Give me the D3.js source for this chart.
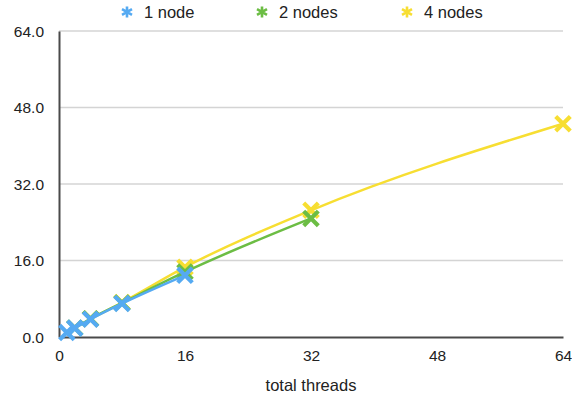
<!DOCTYPE html>
<html>
<head>
<meta charset="utf-8">
<script src="https://cdn.jsdelivr.net/npm/d3@7"></script>
<style>
  body { margin: 0; background: #fff; }
  text { font-family: "Liberation Sans", Arial, sans-serif; }
</style>
</head>
<body>
<div id="chart"></div>
<script>
// data
var seriesNames = ["1 node", "2 nodes", "4 nodes"];
var threads1 = [1, 2, 4, 8, 16];
var speedup1 = [0.95, 1.85, 3.7, 7.0, 12.9];
var threads2 = [2, 4, 8, 16, 32];
var speedup2 = [1.9, 3.8, 7.1, 13.6, 24.8];
var threads4 = [4, 8, 16, 32, 64];
var speedup4 = [3.8, 7.2, 14.6, 26.5, 44.6];
var xTicks = [0, 16, 32, 48, 64];
var yTicks = [0, 16, 32, 48, 64];
var colors = ["#55aaf2", "#6cbd44", "#f7de32"];

var width = 572, height = 402;
var margin = {top: 31, right: 9, bottom: 65, left: 59};
var w = width - margin.left - margin.right,
    h = height - margin.top - margin.bottom;

var svg = d3.select("#chart").append("svg")
    .attr("width", width)
    .attr("height", height);

var g = svg.append("g")
    .attr("transform", "translate(" + margin.left + "," + margin.top + ")");

var x = d3.scaleLinear().domain([0, 64]).range([0, w]);
var y = d3.scaleLinear().domain([0, 64]).range([h, 0]);

// horizontal grid
g.selectAll(".grid")
    .data(yTicks.filter(function(d){ return d > 0; }))
    .enter().append("line")
    .attr("x1", 0).attr("x2", w)
    .attr("y1", function(d){ return y(d); })
    .attr("y2", function(d){ return y(d); })
    .attr("stroke", "#d4d4d4")
    .attr("stroke-width", 1.3);

// y axis
var yAxis = d3.axisLeft(y).tickValues(yTicks).tickSize(0).tickPadding(15)
    .tickFormat(d3.format(".1f"));
var ya = g.append("g").call(yAxis);
ya.select(".domain").attr("stroke", "#4a4a4a").attr("stroke-width", 2);
ya.selectAll("text").attr("font-size", 15.5).attr("fill", "#222").attr("dy", "0.35em")
    .attr("font-family", "Liberation Sans, Arial, sans-serif");

// x axis
var xAxis = d3.axisBottom(x).tickValues(xTicks).tickSize(0).tickPadding(13);
var xa = g.append("g").attr("transform", "translate(0," + h + ")").call(xAxis);
xa.select(".domain").attr("stroke", "#4a4a4a").attr("stroke-width", 2);
xa.selectAll("text").attr("font-size", 15.5).attr("fill", "#222")
    .attr("font-family", "Liberation Sans, Arial, sans-serif");

// axis title
svg.append("text")
    .attr("x", margin.left + w / 2)
    .attr("y", 391)
    .attr("text-anchor", "middle")
    .attr("font-size", 16.5)
    .attr("fill", "#222")
    .text("total threads");

var series = [
    {name: seriesNames[0], xs: threads1, ys: speedup1, color: colors[0]},
    {name: seriesNames[1], xs: threads2, ys: speedup2, color: colors[1]},
    {name: seriesNames[2], xs: threads4, ys: speedup4, color: colors[2]}
];

var line = d3.line()
    .x(function(d){ return x(d[0]); })
    .y(function(d){ return y(d[1]); })
    .curve(d3.curveMonotoneX);

// draw 4 nodes first so 1 node sits on top
series.slice().reverse().forEach(function(s){
    var pts = s.xs.map(function(t, i){ return [t, s.ys[i]]; });
    g.append("path")
        .datum(pts)
        .attr("fill", "none")
        .attr("stroke", s.color)
        .attr("stroke-width", 2.5)
        .attr("d", line);
    var r = 7.3;
    var mk = g.selectAll(null).data(pts).enter().append("g")
        .attr("transform", function(d){ return "translate(" + x(d[0]) + "," + y(d[1]) + ")"; });
    mk.append("path")
        .attr("d", "M" + (-r) + "," + (-r) + "L" + r + "," + r + "M" + (-r) + "," + r + "L" + r + "," + (-r))
        .attr("stroke", s.color)
        .attr("stroke-width", 4.2)
        .attr("fill", "none");
});

// legend
var legendX = [127, 262, 407];
var lg = svg.selectAll(".legend")
    .data(series)
    .enter().append("g")
    .attr("transform", function(d, i){ return "translate(" + legendX[i] + ",12)"; });
lg.append("path")
    .attr("d", "M0,-5.5L0,5.5M-5,-2.8L5,2.8M-5,2.8L5,-2.8")
    .attr("stroke", function(d){ return d.color; })
    .attr("stroke-width", 2.6);
lg.append("text")
    .attr("x", 17)
    .attr("y", 0)
    .attr("dy", "0.35em")
    .attr("font-size", 16.5)
    .attr("fill", "#222")
    .text(function(d){ return d.name; });
</script>
</body>
</html>
